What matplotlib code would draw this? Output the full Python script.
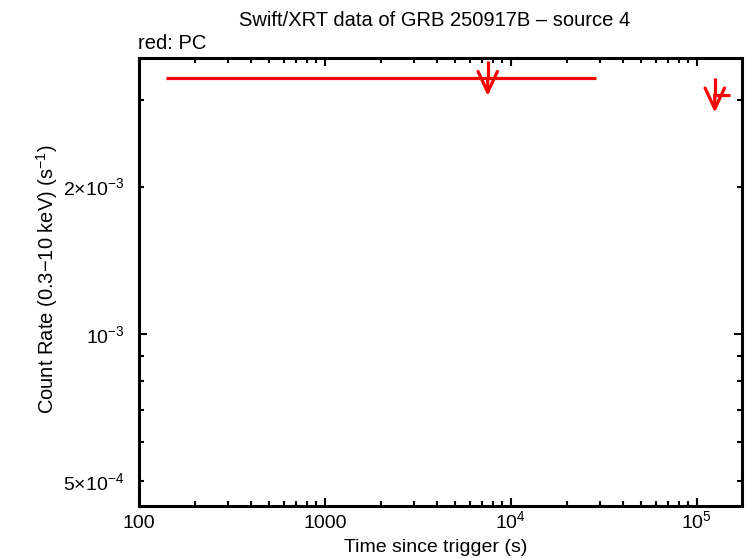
import matplotlib
matplotlib.use("Agg")
import matplotlib.pyplot as plt
from matplotlib.ticker import FixedLocator, NullFormatter

plt.rcParams['font.family'] = ['Liberation Sans', 'DejaVu Sans']
plt.rcParams['mathtext.fontset'] = 'custom'
plt.rcParams['mathtext.rm'] = 'Liberation Sans'
plt.rcParams['mathtext.it'] = 'Liberation Sans'

# upper limits (PC mode)
ul_t = [7510, 1.25e5]
ul_tlo = [140, 1.22e5]
ul_thi = [28800, 1.50e5]
ul_rate = [3.33e-3, 3.08e-3]

x_ticks = [100, 1000, 1e4, 1e5]
x_labels = ['100', '1000', r'10$^{4}$', r'10$^{5}$']
y_ticks = [5e-4, 1e-3, 2e-3]
y_labels = [r'5$\times$10$^{-4}$', r'10$^{-3}$', r'2$\times$10$^{-3}$']

fs = 14

fig = plt.figure(figsize=(7.46, 5.58), dpi=100)
ax = fig.add_axes([0.1863, 0.0932, 0.8083, 0.8028])
ax.set_xscale('log')
ax.set_yscale('log')
ax.set_xlim(100, 1.75e5)
ax.set_ylim(4.45e-4, 3.66e-3)

red = '#ff0000'
for t, lo, hi, r in zip(ul_t, ul_tlo, ul_thi, ul_rate):
    ax.plot([lo, hi], [r, r], color=red, lw=2.3, solid_capstyle='butt')
    ax.plot([t, t], [r * 1.083, r], color=red, lw=2.3, solid_capstyle='butt')
    ax.annotate('', xy=(t, r / 1.088), xytext=(t, r * 1.0),
                arrowprops=dict(arrowstyle='->,head_length=1.5,head_width=0.7',
                                color=red, lw=2.3, mutation_scale=10,
                                shrinkA=0, shrinkB=0))

# ticks
ax.xaxis.set_major_locator(FixedLocator(x_ticks))
x_minor = [m * 10 ** e for e in range(2, 6) for m in range(2, 10)]
ax.xaxis.set_minor_locator(FixedLocator(x_minor))
ax.xaxis.set_major_formatter(NullFormatter())
ax.xaxis.set_minor_formatter(NullFormatter())
for v, lab in zip(x_ticks, x_labels):
    ax.text(v, -0.05, lab, transform=ax.get_xaxis_transform(),
            ha='center', va='baseline', fontsize=fs)

ax.yaxis.set_major_locator(FixedLocator([1e-3]))
y_minor = [m * 1e-4 for m in range(4, 10)] + [m * 1e-3 for m in range(2, 4)]
ax.yaxis.set_minor_locator(FixedLocator(y_minor))
ax.yaxis.set_major_formatter(NullFormatter())
ax.yaxis.set_minor_formatter(NullFormatter())
for v, lab in zip(y_ticks, y_labels):
    ax.text(-0.024, v, lab, transform=ax.get_yaxis_transform(),
            ha='right', va='center_baseline', fontsize=fs)

ax.tick_params(which='both', direction='in', top=True, right=True, width=1.5,
               colors='black')
ax.tick_params(which='major', length=6)
ax.tick_params(which='minor', length=3.5)
for s in ax.spines.values():
    s.set_linewidth(2.2)

fig.text(0.5845, 0.018, 'Time since trigger (s)', ha='center', va='center',
         fontsize=14)
fig.text(0.063, 0.499, r'Count Rate (0.3$-$10 keV) (s$^{-1}$)', ha='center',
         va='center', rotation=90, fontsize=14.5)
fig.text(0.583, 0.964, 'Swift/XRT data of GRB 250917B \u2013 source 4',
         ha='center', va='center', fontsize=14.5)
fig.text(0.185, 0.922, 'red: PC', ha='left', va='center', fontsize=14.5)

fig.savefig('out.png', dpi=100)
